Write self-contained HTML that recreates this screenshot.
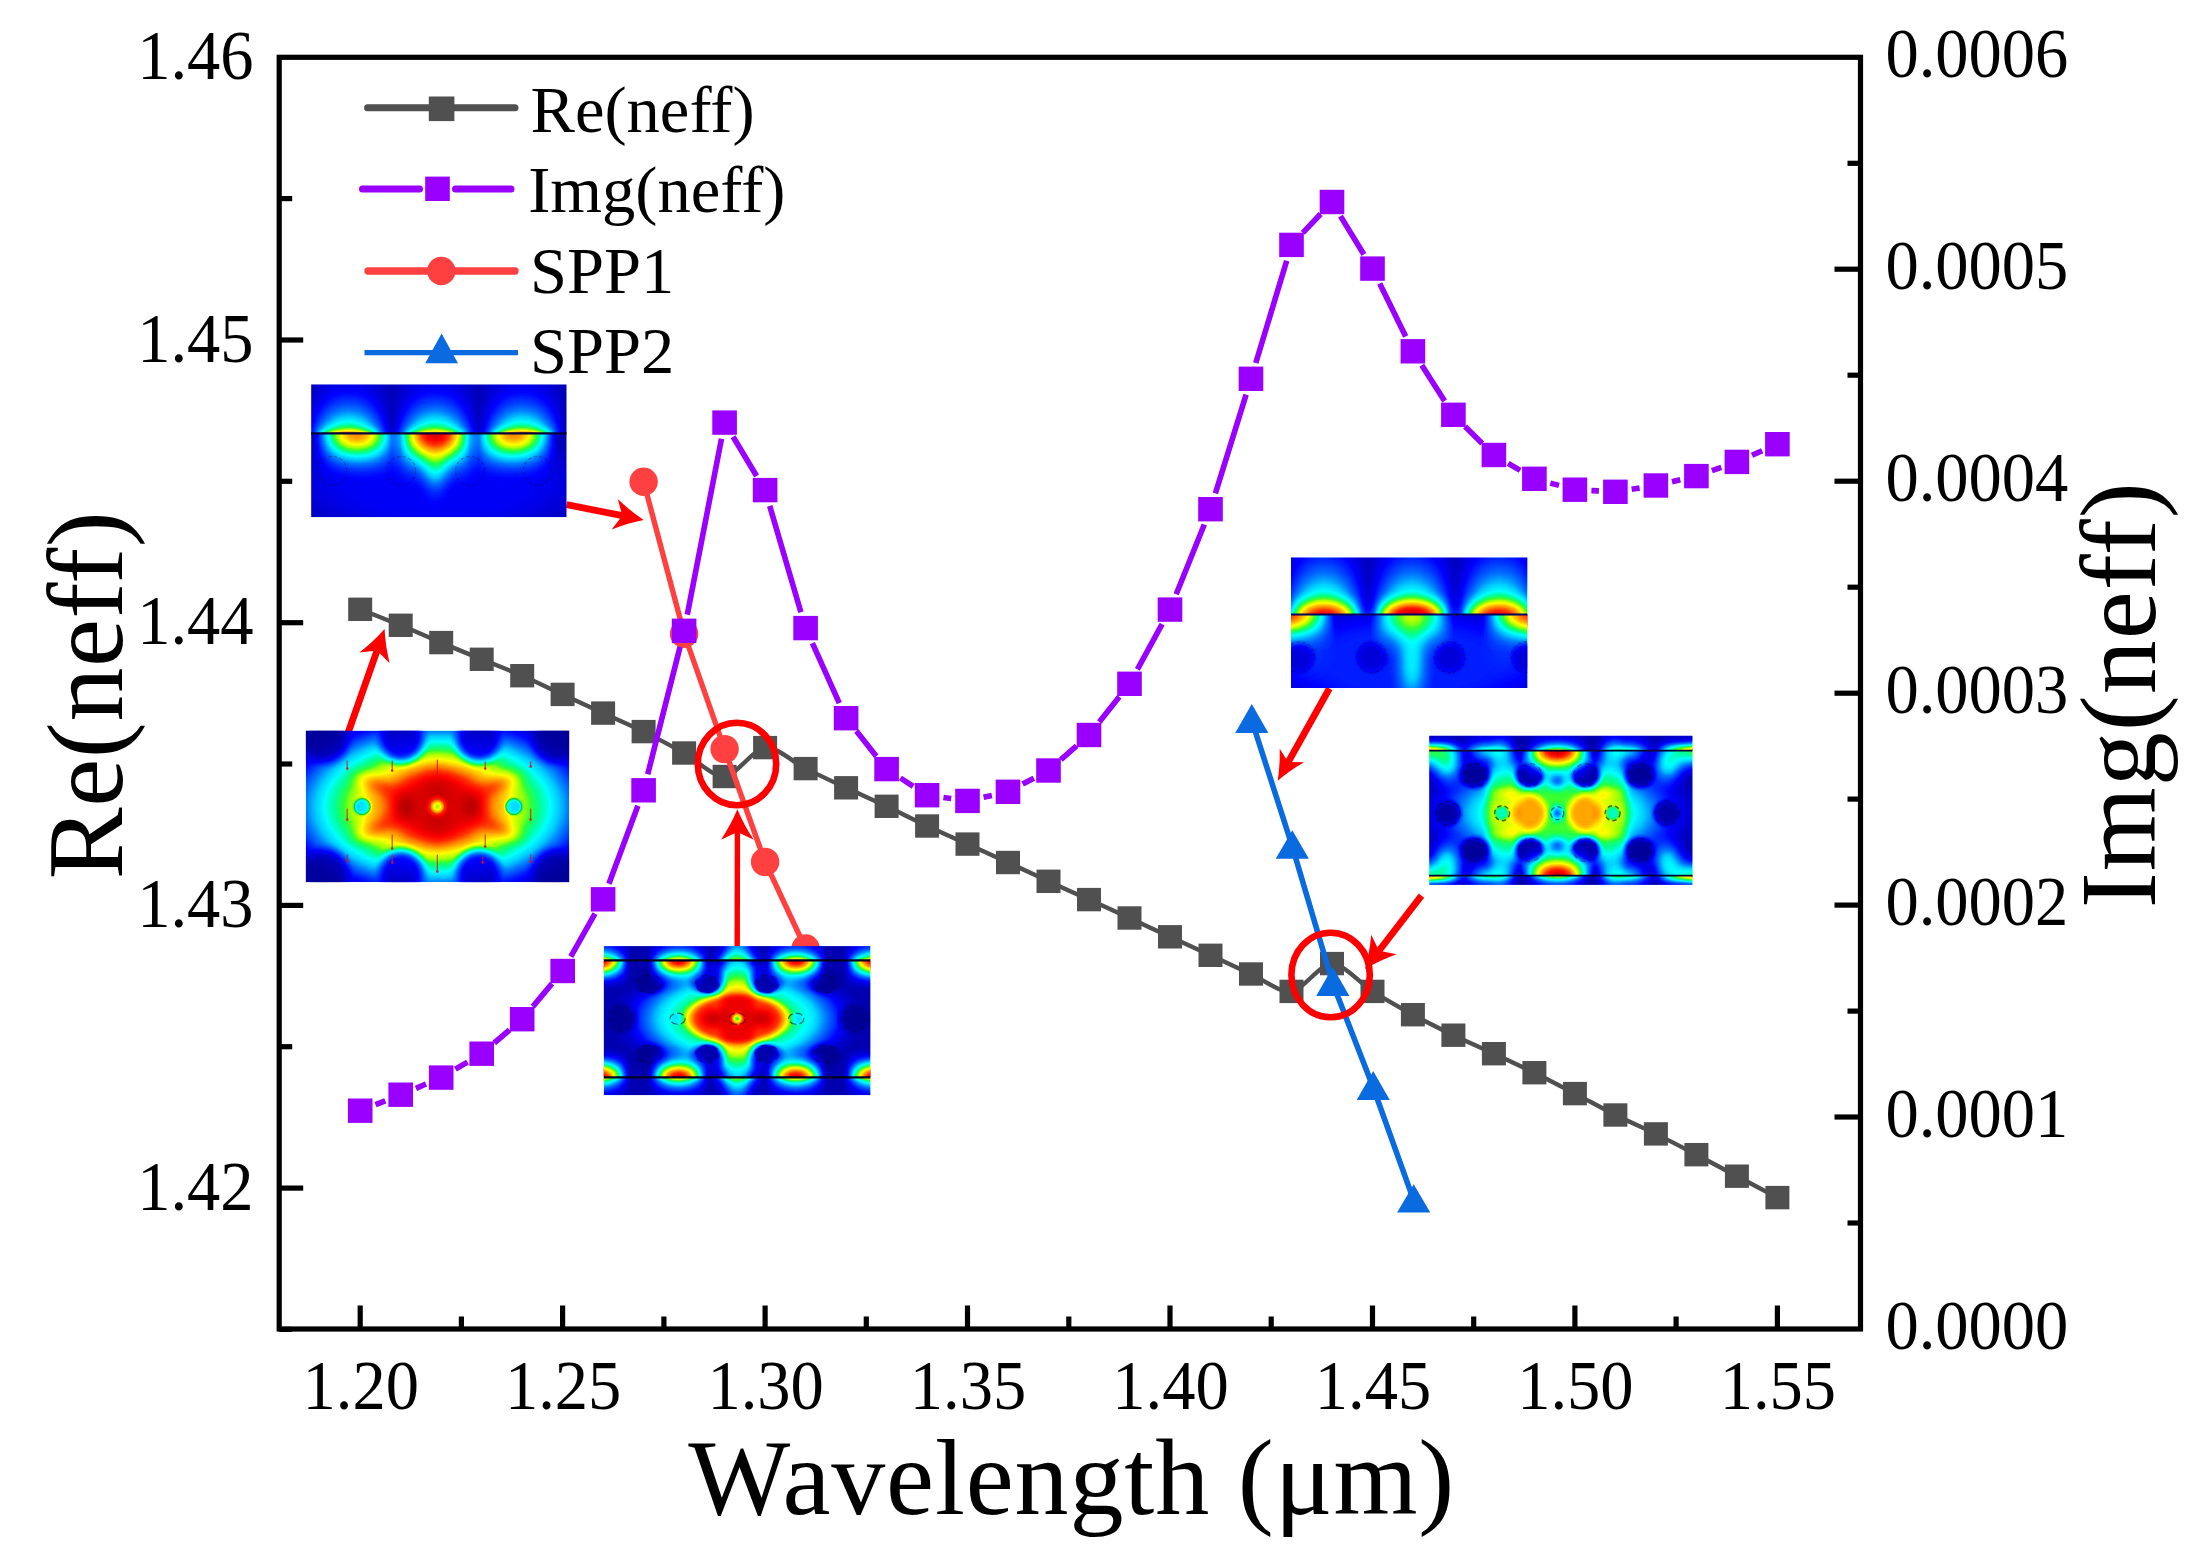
<!DOCTYPE html>
<html lang="en"><head><meta charset="utf-8"><title>Re(neff) and Img(neff) versus wavelength</title>
<style>html,body{margin:0;padding:0;background:#fff}svg{display:block}</style></head><body>
<svg width="2199" height="1557" viewBox="0 0 2199 1557">
<defs>
<filter id="jet" color-interpolation-filters="sRGB" x="0" y="0" width="100%" height="100%" filterUnits="objectBoundingBox">
<feComponentTransfer>
<feFuncR type="table" tableValues="0 0 0 0 0 0 0 0 0.2 0.7 1 1 1 1 1 0.8 0.6"/>
<feFuncG type="table" tableValues="0 0 0 0.25 0.5 0.8 1 1 1 1 1 0.75 0.5 0.2 0 0 0"/>
<feFuncB type="table" tableValues="0.56 0.8 1 1 1 1 1 0.6 0.2 0 0 0 0 0 0 0 0"/>
</feComponentTransfer></filter>
<radialGradient id="gw">
<stop offset="0" stop-color="#fff" stop-opacity="1.000"/>
<stop offset="0.1" stop-color="#fff" stop-opacity="0.967"/>
<stop offset="0.2" stop-color="#fff" stop-opacity="0.875"/>
<stop offset="0.3" stop-color="#fff" stop-opacity="0.739"/>
<stop offset="0.4" stop-color="#fff" stop-opacity="0.582"/>
<stop offset="0.5" stop-color="#fff" stop-opacity="0.426"/>
<stop offset="0.6" stop-color="#fff" stop-opacity="0.287"/>
<stop offset="0.7" stop-color="#fff" stop-opacity="0.175"/>
<stop offset="0.8" stop-color="#fff" stop-opacity="0.092"/>
<stop offset="0.9" stop-color="#fff" stop-opacity="0.036"/>
<stop offset="1" stop-color="#fff" stop-opacity="0.000"/>
</radialGradient>
<radialGradient id="gb">
<stop offset="0" stop-color="#000" stop-opacity="1.000"/>
<stop offset="0.1" stop-color="#000" stop-opacity="0.967"/>
<stop offset="0.2" stop-color="#000" stop-opacity="0.875"/>
<stop offset="0.3" stop-color="#000" stop-opacity="0.739"/>
<stop offset="0.4" stop-color="#000" stop-opacity="0.582"/>
<stop offset="0.5" stop-color="#000" stop-opacity="0.426"/>
<stop offset="0.6" stop-color="#000" stop-opacity="0.287"/>
<stop offset="0.7" stop-color="#000" stop-opacity="0.175"/>
<stop offset="0.8" stop-color="#000" stop-opacity="0.092"/>
<stop offset="0.9" stop-color="#000" stop-opacity="0.036"/>
<stop offset="1" stop-color="#000" stop-opacity="0.000"/>
</radialGradient>
<radialGradient id="ew">
<stop offset="0" stop-color="#fff" stop-opacity="1.000"/>
<stop offset="0.1" stop-color="#fff" stop-opacity="0.727"/>
<stop offset="0.2" stop-color="#fff" stop-opacity="0.525"/>
<stop offset="0.3" stop-color="#fff" stop-opacity="0.375"/>
<stop offset="0.4" stop-color="#fff" stop-opacity="0.265"/>
<stop offset="0.5" stop-color="#fff" stop-opacity="0.182"/>
<stop offset="0.6" stop-color="#fff" stop-opacity="0.122"/>
<stop offset="0.7" stop-color="#fff" stop-opacity="0.076"/>
<stop offset="0.8" stop-color="#fff" stop-opacity="0.043"/>
<stop offset="0.9" stop-color="#fff" stop-opacity="0.018"/>
<stop offset="1" stop-color="#fff" stop-opacity="0.000"/>
</radialGradient>
<radialGradient id="pw">
<stop offset="0" stop-color="#fff" stop-opacity="1.000"/>
<stop offset="0.1" stop-color="#fff" stop-opacity="1.000"/>
<stop offset="0.2" stop-color="#fff" stop-opacity="1.000"/>
<stop offset="0.3" stop-color="#fff" stop-opacity="1.000"/>
<stop offset="0.4" stop-color="#fff" stop-opacity="1.000"/>
<stop offset="0.5" stop-color="#fff" stop-opacity="0.933"/>
<stop offset="0.6" stop-color="#fff" stop-opacity="0.750"/>
<stop offset="0.7" stop-color="#fff" stop-opacity="0.500"/>
<stop offset="0.8" stop-color="#fff" stop-opacity="0.250"/>
<stop offset="0.9" stop-color="#fff" stop-opacity="0.067"/>
<stop offset="1" stop-color="#fff" stop-opacity="0.000"/>
</radialGradient>
<radialGradient id="pb">
<stop offset="0" stop-color="#000" stop-opacity="1.000"/>
<stop offset="0.1" stop-color="#000" stop-opacity="1.000"/>
<stop offset="0.2" stop-color="#000" stop-opacity="1.000"/>
<stop offset="0.3" stop-color="#000" stop-opacity="1.000"/>
<stop offset="0.4" stop-color="#000" stop-opacity="1.000"/>
<stop offset="0.5" stop-color="#000" stop-opacity="0.933"/>
<stop offset="0.6" stop-color="#000" stop-opacity="0.750"/>
<stop offset="0.7" stop-color="#000" stop-opacity="0.500"/>
<stop offset="0.8" stop-color="#000" stop-opacity="0.250"/>
<stop offset="0.9" stop-color="#000" stop-opacity="0.067"/>
<stop offset="1" stop-color="#000" stop-opacity="0.000"/>
</radialGradient>
<radialGradient id="hb">
<stop offset="0" stop-color="#000" stop-opacity="1.000"/>
<stop offset="0.0625" stop-color="#000" stop-opacity="1.000"/>
<stop offset="0.125" stop-color="#000" stop-opacity="1.000"/>
<stop offset="0.1875" stop-color="#000" stop-opacity="1.000"/>
<stop offset="0.25" stop-color="#000" stop-opacity="1.000"/>
<stop offset="0.3125" stop-color="#000" stop-opacity="1.000"/>
<stop offset="0.375" stop-color="#000" stop-opacity="1.000"/>
<stop offset="0.4375" stop-color="#000" stop-opacity="1.000"/>
<stop offset="0.5" stop-color="#000" stop-opacity="1.000"/>
<stop offset="0.5625" stop-color="#000" stop-opacity="1.000"/>
<stop offset="0.625" stop-color="#000" stop-opacity="1.000"/>
<stop offset="0.6875" stop-color="#000" stop-opacity="0.924"/>
<stop offset="0.75" stop-color="#000" stop-opacity="0.738"/>
<stop offset="0.8125" stop-color="#000" stop-opacity="0.490"/>
<stop offset="0.875" stop-color="#000" stop-opacity="0.244"/>
<stop offset="0.9375" stop-color="#000" stop-opacity="0.065"/>
<stop offset="1" stop-color="#000" stop-opacity="0.000"/>
</radialGradient>
<radialGradient id="hw">
<stop offset="0" stop-color="#fff" stop-opacity="1.000"/>
<stop offset="0.0625" stop-color="#fff" stop-opacity="1.000"/>
<stop offset="0.125" stop-color="#fff" stop-opacity="1.000"/>
<stop offset="0.1875" stop-color="#fff" stop-opacity="1.000"/>
<stop offset="0.25" stop-color="#fff" stop-opacity="1.000"/>
<stop offset="0.3125" stop-color="#fff" stop-opacity="1.000"/>
<stop offset="0.375" stop-color="#fff" stop-opacity="1.000"/>
<stop offset="0.4375" stop-color="#fff" stop-opacity="1.000"/>
<stop offset="0.5" stop-color="#fff" stop-opacity="1.000"/>
<stop offset="0.5625" stop-color="#fff" stop-opacity="1.000"/>
<stop offset="0.625" stop-color="#fff" stop-opacity="1.000"/>
<stop offset="0.6875" stop-color="#fff" stop-opacity="0.924"/>
<stop offset="0.75" stop-color="#fff" stop-opacity="0.738"/>
<stop offset="0.8125" stop-color="#fff" stop-opacity="0.490"/>
<stop offset="0.875" stop-color="#fff" stop-opacity="0.244"/>
<stop offset="0.9375" stop-color="#fff" stop-opacity="0.065"/>
<stop offset="1" stop-color="#fff" stop-opacity="0.000"/>
</radialGradient>
<linearGradient id="hc" x1="0" y1="0" x2="1" y2="0">
<stop offset="0" stop-color="#fff" stop-opacity="0.000"/>
<stop offset="0.0833333" stop-color="#fff" stop-opacity="0.211"/>
<stop offset="0.166667" stop-color="#fff" stop-opacity="0.451"/>
<stop offset="0.25" stop-color="#fff" stop-opacity="0.671"/>
<stop offset="0.333333" stop-color="#fff" stop-opacity="0.848"/>
<stop offset="0.416667" stop-color="#fff" stop-opacity="0.961"/>
<stop offset="0.5" stop-color="#fff" stop-opacity="1.000"/>
<stop offset="0.583333" stop-color="#fff" stop-opacity="0.961"/>
<stop offset="0.666667" stop-color="#fff" stop-opacity="0.848"/>
<stop offset="0.75" stop-color="#fff" stop-opacity="0.671"/>
<stop offset="0.833333" stop-color="#fff" stop-opacity="0.451"/>
<stop offset="0.916667" stop-color="#fff" stop-opacity="0.211"/>
<stop offset="1" stop-color="#fff" stop-opacity="0.000"/>
</linearGradient>
<mask id="hm" maskContentUnits="objectBoundingBox" x="0" y="0" width="1" height="1"><rect width="1" height="1" fill="url(#hc)"/></mask>
<linearGradient id="vEd" x1="0" y1="0" x2="0" y2="1">
<stop offset="0" stop-color="#fff" stop-opacity="1.000"/>
<stop offset="0.1" stop-color="#fff" stop-opacity="0.759"/>
<stop offset="0.2" stop-color="#fff" stop-opacity="0.571"/>
<stop offset="0.3" stop-color="#fff" stop-opacity="0.425"/>
<stop offset="0.4" stop-color="#fff" stop-opacity="0.311"/>
<stop offset="0.5" stop-color="#fff" stop-opacity="0.223"/>
<stop offset="0.6" stop-color="#fff" stop-opacity="0.154"/>
<stop offset="0.7" stop-color="#fff" stop-opacity="0.100"/>
<stop offset="0.8" stop-color="#fff" stop-opacity="0.058"/>
<stop offset="0.9" stop-color="#fff" stop-opacity="0.025"/>
<stop offset="1" stop-color="#fff" stop-opacity="0.000"/>
</linearGradient>
<linearGradient id="vEu" x1="0" y1="1" x2="0" y2="0">
<stop offset="0" stop-color="#fff" stop-opacity="1.000"/>
<stop offset="0.1" stop-color="#fff" stop-opacity="0.759"/>
<stop offset="0.2" stop-color="#fff" stop-opacity="0.571"/>
<stop offset="0.3" stop-color="#fff" stop-opacity="0.425"/>
<stop offset="0.4" stop-color="#fff" stop-opacity="0.311"/>
<stop offset="0.5" stop-color="#fff" stop-opacity="0.223"/>
<stop offset="0.6" stop-color="#fff" stop-opacity="0.154"/>
<stop offset="0.7" stop-color="#fff" stop-opacity="0.100"/>
<stop offset="0.8" stop-color="#fff" stop-opacity="0.058"/>
<stop offset="0.9" stop-color="#fff" stop-opacity="0.025"/>
<stop offset="1" stop-color="#fff" stop-opacity="0.000"/>
</linearGradient>
<linearGradient id="vGd" x1="0" y1="0" x2="0" y2="1">
<stop offset="0" stop-color="#fff" stop-opacity="1.000"/>
<stop offset="0.1" stop-color="#fff" stop-opacity="0.960"/>
<stop offset="0.2" stop-color="#fff" stop-opacity="0.849"/>
<stop offset="0.3" stop-color="#fff" stop-opacity="0.692"/>
<stop offset="0.4" stop-color="#fff" stop-opacity="0.518"/>
<stop offset="0.5" stop-color="#fff" stop-opacity="0.356"/>
<stop offset="0.6" stop-color="#fff" stop-opacity="0.223"/>
<stop offset="0.7" stop-color="#fff" stop-opacity="0.125"/>
<stop offset="0.8" stop-color="#fff" stop-opacity="0.060"/>
<stop offset="0.9" stop-color="#fff" stop-opacity="0.021"/>
<stop offset="1" stop-color="#fff" stop-opacity="0.000"/>
</linearGradient>
<linearGradient id="vGu" x1="0" y1="1" x2="0" y2="0">
<stop offset="0" stop-color="#fff" stop-opacity="1.000"/>
<stop offset="0.1" stop-color="#fff" stop-opacity="0.960"/>
<stop offset="0.2" stop-color="#fff" stop-opacity="0.849"/>
<stop offset="0.3" stop-color="#fff" stop-opacity="0.692"/>
<stop offset="0.4" stop-color="#fff" stop-opacity="0.518"/>
<stop offset="0.5" stop-color="#fff" stop-opacity="0.356"/>
<stop offset="0.6" stop-color="#fff" stop-opacity="0.223"/>
<stop offset="0.7" stop-color="#fff" stop-opacity="0.125"/>
<stop offset="0.8" stop-color="#fff" stop-opacity="0.060"/>
<stop offset="0.9" stop-color="#fff" stop-opacity="0.021"/>
<stop offset="1" stop-color="#fff" stop-opacity="0.000"/>
</linearGradient>
<linearGradient id="vSd" x1="0" y1="0" x2="0" y2="1">
<stop offset="0" stop-color="#fff" stop-opacity="1.000"/>
<stop offset="0.1" stop-color="#fff" stop-opacity="0.604"/>
<stop offset="0.2" stop-color="#fff" stop-opacity="0.364"/>
<stop offset="0.3" stop-color="#fff" stop-opacity="0.218"/>
<stop offset="0.4" stop-color="#fff" stop-opacity="0.129"/>
<stop offset="0.5" stop-color="#fff" stop-opacity="0.076"/>
<stop offset="0.6" stop-color="#fff" stop-opacity="0.043"/>
<stop offset="0.7" stop-color="#fff" stop-opacity="0.024"/>
<stop offset="0.8" stop-color="#fff" stop-opacity="0.012"/>
<stop offset="0.9" stop-color="#fff" stop-opacity="0.004"/>
<stop offset="1" stop-color="#fff" stop-opacity="0.000"/>
</linearGradient>
<linearGradient id="vSu" x1="0" y1="1" x2="0" y2="0">
<stop offset="0" stop-color="#fff" stop-opacity="1.000"/>
<stop offset="0.1" stop-color="#fff" stop-opacity="0.604"/>
<stop offset="0.2" stop-color="#fff" stop-opacity="0.364"/>
<stop offset="0.3" stop-color="#fff" stop-opacity="0.218"/>
<stop offset="0.4" stop-color="#fff" stop-opacity="0.129"/>
<stop offset="0.5" stop-color="#fff" stop-opacity="0.076"/>
<stop offset="0.6" stop-color="#fff" stop-opacity="0.043"/>
<stop offset="0.7" stop-color="#fff" stop-opacity="0.024"/>
<stop offset="0.8" stop-color="#fff" stop-opacity="0.012"/>
<stop offset="0.9" stop-color="#fff" stop-opacity="0.004"/>
<stop offset="1" stop-color="#fff" stop-opacity="0.000"/>
</linearGradient>
<filter id="b3" x="-20%" y="-20%" width="140%" height="140%"><feGaussianBlur stdDeviation="3"/></filter>
<filter id="b6" x="-30%" y="-30%" width="160%" height="160%"><feGaussianBlur stdDeviation="6"/></filter>
</defs>
<rect width="2199" height="1557" fill="#fff"/>
<g stroke="#000" stroke-width="5.2" fill="none" stroke-linecap="butt">
<rect x="279.2" y="57.3" width="1581.3" height="1271.7"/>
</g><g stroke="#000" stroke-width="5.2" fill="none">
<path d="M360.2 1329.0 V1305.5"/>
<path d="M562.6 1329.0 V1305.5"/>
<path d="M765.1 1329.0 V1305.5"/>
<path d="M967.5 1329.0 V1305.5"/>
<path d="M1170.0 1329.0 V1305.5"/>
<path d="M1372.5 1329.0 V1305.5"/>
<path d="M1574.9 1329.0 V1305.5"/>
<path d="M1777.4 1329.0 V1305.5"/>
<path d="M461.4 1329.0 V1316.5"/>
<path d="M663.9 1329.0 V1316.5"/>
<path d="M866.3 1329.0 V1316.5"/>
<path d="M1068.8 1329.0 V1316.5"/>
<path d="M1271.2 1329.0 V1316.5"/>
<path d="M1473.7 1329.0 V1316.5"/>
<path d="M1676.1 1329.0 V1316.5"/>
<path d="M279.2 1188.1 H303.2"/>
<path d="M279.2 905.4 H303.2"/>
<path d="M279.2 622.7 H303.2"/>
<path d="M279.2 340.0 H303.2"/>
<path d="M279.2 1329.4 H292.2"/>
<path d="M279.2 1046.7 H292.2"/>
<path d="M279.2 764.0 H292.2"/>
<path d="M279.2 481.3 H292.2"/>
<path d="M279.2 198.6 H292.2"/>
<path d="M1860.5 1117.0 H1834.5"/>
<path d="M1860.5 905.1 H1834.5"/>
<path d="M1860.5 693.2 H1834.5"/>
<path d="M1860.5 481.2 H1834.5"/>
<path d="M1860.5 269.2 H1834.5"/>
<path d="M1860.5 1223.0 H1847.5"/>
<path d="M1860.5 1011.1 H1847.5"/>
<path d="M1860.5 799.1 H1847.5"/>
<path d="M1860.5 587.2 H1847.5"/>
<path d="M1860.5 375.2 H1847.5"/>
<path d="M1860.5 163.3 H1847.5"/>
</g>
<g font-family='"Liberation Serif", "DejaVu Serif", serif' font-size="66.5" fill="#000">
<text transform="translate(360.7 1409.0) scale(1 1.05)" text-anchor="middle">1.20</text>
<text transform="translate(563.1 1409.0) scale(1 1.05)" text-anchor="middle">1.25</text>
<text transform="translate(765.6 1409.0) scale(1 1.05)" text-anchor="middle">1.30</text>
<text transform="translate(968.0 1409.0) scale(1 1.05)" text-anchor="middle">1.35</text>
<text transform="translate(1170.5 1409.0) scale(1 1.05)" text-anchor="middle">1.40</text>
<text transform="translate(1373.0 1409.0) scale(1 1.05)" text-anchor="middle">1.45</text>
<text transform="translate(1575.4 1409.0) scale(1 1.05)" text-anchor="middle">1.50</text>
<text transform="translate(1777.9 1409.0) scale(1 1.05)" text-anchor="middle">1.55</text>
<text transform="translate(253.6 1209.7) scale(1 1.05)" text-anchor="end">1.42</text>
<text transform="translate(253.6 927.0) scale(1 1.05)" text-anchor="end">1.43</text>
<text transform="translate(253.6 644.3) scale(1 1.05)" text-anchor="end">1.44</text>
<text transform="translate(253.6 361.6) scale(1 1.05)" text-anchor="end">1.45</text>
<text transform="translate(253.6 78.9) scale(1 1.05)" text-anchor="end">1.46</text>
<text transform="translate(1885.4 1348.8) scale(1 1.05)" text-anchor="start">0.0000</text>
<text transform="translate(1885.4 1136.8) scale(1 1.05)" text-anchor="start">0.0001</text>
<text transform="translate(1885.4 924.9) scale(1 1.05)" text-anchor="start">0.0002</text>
<text transform="translate(1885.4 713.0) scale(1 1.05)" text-anchor="start">0.0003</text>
<text transform="translate(1885.4 501.0) scale(1 1.05)" text-anchor="start">0.0004</text>
<text transform="translate(1885.4 289.1) scale(1 1.05)" text-anchor="start">0.0005</text>
<text transform="translate(1885.4 77.1) scale(1 1.05)" text-anchor="start">0.0006</text>
</g>
<g font-family='"Liberation Serif", "DejaVu Serif", serif' font-size="108" fill="#000">
<text x="1071.3" y="1514.4" text-anchor="middle" textLength="766" lengthAdjust="spacing">Wavelength (μm)</text>
<text transform="translate(122 695.3) rotate(-90)" text-anchor="middle" textLength="368" lengthAdjust="spacing">Re(neff)</text>
<text transform="translate(2154.6 695.3) rotate(-90)" text-anchor="middle" textLength="426" lengthAdjust="spacing">Img(neff)</text>
</g>
<path d="M367.5 107.8H515" stroke="#505050" stroke-width="7" stroke-linecap="round"/>
<rect x="428.8" y="96.5" width="25.6" height="24.6" fill="#505050"/>
<path d="M362.5 189H419.5M455.5 189H511" stroke="#9900ff" stroke-width="7" stroke-linecap="round"/>
<rect x="425.2" y="176.6" width="24.6" height="24.4" fill="#9900ff"/>
<path d="M368 271H515" stroke="#ff4040" stroke-width="7.4" stroke-linecap="round"/>
<circle cx="441.3" cy="271" r="14.2" fill="#ff4040"/>
<path d="M364.5 352.6H518" stroke="#0a6ae0" stroke-width="5.4"/>
<path d="M441.6 333.5L458 363.2H425.2Z" fill="#0a6ae0"/>
<g font-family='"Liberation Serif", "DejaVu Serif", serif' font-size="66.5" fill="#000">
<text x="530.6" y="131.8">Re(neff)</text>
<text x="528.2" y="211.8">Img(neff)</text>
<text x="530" y="293.3">SPP1</text>
<text x="530" y="373.4">SPP2</text>
</g>
<path fill="none" stroke="#505050" stroke-width="4.4" stroke-linejoin="round" d="M360.2 609.3C366.0 611.6 389.1 620.5 400.7 625.3C412.3 630.1 429.6 637.7 441.2 642.6C452.7 647.5 470.1 654.6 481.7 659.3C493.2 664.0 510.6 670.7 522.2 675.7C533.7 680.7 551.1 689.1 562.6 694.4C574.2 699.7 591.6 707.8 603.1 713.1C614.7 718.4 632.1 725.9 643.6 731.6C655.2 737.3 672.6 746.6 684.1 753.0C695.7 759.4 713.0 777.3 724.6 776.5C736.2 775.7 753.5 748.7 765.1 747.6C776.7 746.5 794.0 762.9 805.6 768.6C817.2 774.3 834.5 782.4 846.1 787.8C857.6 793.2 875.0 800.8 886.6 806.3C898.1 811.8 915.5 820.6 927.1 826.0C938.6 831.4 956.0 838.9 967.5 844.1C979.1 849.3 996.5 857.2 1008.0 862.5C1019.6 867.8 1037.0 876.0 1048.5 881.3C1060.1 886.6 1077.5 894.4 1089.0 899.6C1100.6 904.8 1117.9 912.7 1129.5 918.0C1141.1 923.3 1158.4 931.5 1170.0 936.8C1181.6 942.1 1198.9 950.0 1210.5 955.3C1222.1 960.6 1239.4 968.8 1251.0 974.0C1262.5 979.2 1279.9 992.9 1291.5 991.4C1303.0 989.9 1320.4 963.6 1332.0 963.6C1343.5 963.6 1360.9 984.1 1372.5 991.4C1384.0 998.7 1401.4 1008.4 1412.9 1014.7C1424.5 1021.0 1441.9 1029.6 1453.4 1035.2C1465.0 1040.8 1482.4 1048.3 1493.9 1053.7C1505.5 1059.1 1522.8 1067.0 1534.4 1072.7C1546.0 1078.4 1563.3 1087.6 1574.9 1093.6C1586.5 1099.6 1603.8 1109.2 1615.4 1115.0C1627.0 1120.8 1644.3 1128.2 1655.9 1133.9C1667.4 1139.6 1684.8 1148.7 1696.4 1154.7C1707.9 1160.7 1725.3 1170.1 1736.9 1176.2C1748.4 1182.3 1771.6 1194.5 1777.4 1197.6"/>
<g fill="#505050">
<rect x="348.2" y="597.6" width="24" height="23.4"/>
<rect x="388.7" y="613.6" width="24" height="23.4"/>
<rect x="429.2" y="630.9" width="24" height="23.4"/>
<rect x="469.7" y="647.6" width="24" height="23.4"/>
<rect x="510.2" y="664.0" width="24" height="23.4"/>
<rect x="550.6" y="682.7" width="24" height="23.4"/>
<rect x="591.1" y="701.4" width="24" height="23.4"/>
<rect x="631.6" y="719.9" width="24" height="23.4"/>
<rect x="672.1" y="741.3" width="24" height="23.4"/>
<rect x="712.6" y="764.8" width="24" height="23.4"/>
<rect x="753.1" y="735.9" width="24" height="23.4"/>
<rect x="793.6" y="756.9" width="24" height="23.4"/>
<rect x="834.1" y="776.1" width="24" height="23.4"/>
<rect x="874.6" y="794.6" width="24" height="23.4"/>
<rect x="915.1" y="814.3" width="24" height="23.4"/>
<rect x="955.5" y="832.4" width="24" height="23.4"/>
<rect x="996.0" y="850.8" width="24" height="23.4"/>
<rect x="1036.5" y="869.6" width="24" height="23.4"/>
<rect x="1077.0" y="887.9" width="24" height="23.4"/>
<rect x="1117.5" y="906.3" width="24" height="23.4"/>
<rect x="1158.0" y="925.1" width="24" height="23.4"/>
<rect x="1198.5" y="943.6" width="24" height="23.4"/>
<rect x="1239.0" y="962.3" width="24" height="23.4"/>
<rect x="1279.5" y="979.7" width="24" height="23.4"/>
<rect x="1320.0" y="951.9" width="24" height="23.4"/>
<rect x="1360.5" y="979.7" width="24" height="23.4"/>
<rect x="1400.9" y="1003.0" width="24" height="23.4"/>
<rect x="1441.4" y="1023.5" width="24" height="23.4"/>
<rect x="1481.9" y="1042.0" width="24" height="23.4"/>
<rect x="1522.4" y="1061.0" width="24" height="23.4"/>
<rect x="1562.9" y="1081.9" width="24" height="23.4"/>
<rect x="1603.4" y="1103.3" width="24" height="23.4"/>
<rect x="1643.9" y="1122.2" width="24" height="23.4"/>
<rect x="1684.4" y="1143.0" width="24" height="23.4"/>
<rect x="1724.9" y="1164.5" width="24" height="23.4"/>
<rect x="1765.4" y="1185.9" width="24" height="23.4"/>
</g>
<polyline fill="none" stroke="#ff4040" stroke-width="5.4" points="643.6,481.8 684.1,633.8 724.6,749.1 765.1,861.9 805.6,948.5"/>
<g fill="#ff4040">
<circle cx="643.6" cy="481.8" r="14.2"/>
<circle cx="684.1" cy="633.8" r="14.2"/>
<circle cx="724.6" cy="749.1" r="14.2"/>
<circle cx="765.1" cy="861.9" r="14.2"/>
<circle cx="805.6" cy="948.5" r="14.2"/>
</g>
<polyline fill="none" stroke="#0a6ae0" stroke-width="5.6" points="1251.8,720.5 1292.3,846.5 1332.8,983.5 1373.2,1087.5 1413.7,1200.4"/>
<g fill="#0a6ae0">
<path d="M1251.8 703.9L1268.4 733.0H1235.2Z"/>
<path d="M1292.3 830.3L1308.9 858.8H1275.7Z"/>
<path d="M1332.8 967.0L1349.4 996.0H1316.2Z"/>
<path d="M1373.2 1071.0L1389.8 1100.1H1356.7Z"/>
<path d="M1413.7 1184.3L1430.3 1212.6H1397.1Z"/>
</g>
<path d="M375.5 1104.6L385.3 1100.8M415.9 1088.3L426.0 1084.0M455.4 1069.2L467.5 1062.1M494.2 1043.0L509.6 1029.9M532.8 1006.6L552.0 983.6M570.8 956.6L595.0 913.7M608.9 883.8L637.9 805.8M647.7 774.3L680.1 646.8M687.3 614.6L721.5 438.8M733.1 436.7L756.6 476.0M769.7 505.9L800.9 612.3M812.4 643.2L839.3 703.1M856.4 731.1L876.3 756.2M900.4 778.0L913.2 786.3M943.4 797.5L951.2 798.6M983.6 797.3L991.9 795.4M1022.6 784.1L1033.9 778.2M1060.9 759.6L1076.6 745.9M1099.3 722.1L1119.3 696.7M1137.4 669.3L1162.1 624.1M1176.2 594.3L1204.3 524.5M1215.4 493.4L1246.1 394.6M1255.8 363.0L1286.7 260.7M1302.8 232.9L1320.6 214.0M1340.5 216.1L1363.9 254.5M1379.7 283.4L1405.7 336.5M1421.8 365.2L1444.6 400.9M1465.1 426.4L1482.2 443.4M1508.1 463.4L1520.2 470.4M1550.3 483.1L1559.0 485.4M1591.4 490.6L1598.9 490.9M1631.7 489.3L1639.6 488.0M1672.0 481.8L1680.3 479.8M1711.9 470.6L1721.3 467.4M1752.0 455.3L1762.2 450.8" stroke="#9900ff" stroke-width="5.6" fill="none"/>
<g fill="#9900ff">
<rect x="347.9" y="1098.5" width="24.6" height="24.4"/>
<rect x="388.4" y="1082.5" width="24.6" height="24.4"/>
<rect x="428.9" y="1065.4" width="24.6" height="24.4"/>
<rect x="469.4" y="1041.5" width="24.6" height="24.4"/>
<rect x="509.9" y="1007.0" width="24.6" height="24.4"/>
<rect x="550.4" y="958.8" width="24.6" height="24.4"/>
<rect x="590.8" y="887.1" width="24.6" height="24.4"/>
<rect x="631.3" y="778.1" width="24.6" height="24.4"/>
<rect x="671.8" y="618.6" width="24.6" height="24.4"/>
<rect x="712.3" y="410.4" width="24.6" height="24.4"/>
<rect x="752.8" y="477.9" width="24.6" height="24.4"/>
<rect x="793.3" y="615.9" width="24.6" height="24.4"/>
<rect x="833.8" y="706.0" width="24.6" height="24.4"/>
<rect x="874.3" y="756.9" width="24.6" height="24.4"/>
<rect x="914.8" y="783.0" width="24.6" height="24.4"/>
<rect x="955.2" y="788.7" width="24.6" height="24.4"/>
<rect x="995.7" y="779.6" width="24.6" height="24.4"/>
<rect x="1036.2" y="758.3" width="24.6" height="24.4"/>
<rect x="1076.7" y="722.8" width="24.6" height="24.4"/>
<rect x="1117.2" y="671.6" width="24.6" height="24.4"/>
<rect x="1157.7" y="597.4" width="24.6" height="24.4"/>
<rect x="1198.2" y="497.0" width="24.6" height="24.4"/>
<rect x="1238.7" y="366.6" width="24.6" height="24.4"/>
<rect x="1279.2" y="232.7" width="24.6" height="24.4"/>
<rect x="1319.7" y="189.8" width="24.6" height="24.4"/>
<rect x="1360.2" y="256.4" width="24.6" height="24.4"/>
<rect x="1400.6" y="339.1" width="24.6" height="24.4"/>
<rect x="1441.1" y="402.6" width="24.6" height="24.4"/>
<rect x="1481.6" y="442.8" width="24.6" height="24.4"/>
<rect x="1522.1" y="466.6" width="24.6" height="24.4"/>
<rect x="1562.6" y="477.5" width="24.6" height="24.4"/>
<rect x="1603.1" y="479.6" width="24.6" height="24.4"/>
<rect x="1643.6" y="473.3" width="24.6" height="24.4"/>
<rect x="1684.1" y="463.9" width="24.6" height="24.4"/>
<rect x="1724.6" y="449.7" width="24.6" height="24.4"/>
<rect x="1765.1" y="432.0" width="24.6" height="24.4"/>
</g>
<ellipse cx="737" cy="764" rx="39.2" ry="41.2" fill="none" stroke="#ff0000" stroke-width="6.6"/>
<ellipse cx="1330.6" cy="975" rx="39.2" ry="42.3" fill="none" stroke="#ff0000" stroke-width="6.6"/>
<path d="M566.6 504.6L622.3 515.7" stroke="#ff0000" stroke-width="6.8" fill="none"/>
<path d="M643.7 519.9Q628.1 522.8 611.7 529.4L622.3 515.7L617.8 499.0Q630.4 511.3 643.7 519.9Z" fill="#ff0000"/>
<path d="M348.2 732.5L377.1 650.4" stroke="#ff0000" stroke-width="6.8" fill="none"/>
<path d="M384.6 629.1Q385.3 645.5 389.6 663.2L377.1 650.4L359.4 652.6Q373.8 641.5 384.6 629.1Z" fill="#ff0000"/>
<path d="M737.2 947.0L737.4 831.9" stroke="#ff0000" stroke-width="5.4" fill="none"/>
<path d="M737.4 809.3Q743.6 824.6 753.8 839.8L737.4 831.9L721.0 839.8Q731.1 824.5 737.4 809.3Z" fill="#ff0000"/>
<path d="M1329.4 688.5L1288.2 762.1" stroke="#ff0000" stroke-width="6.8" fill="none"/>
<path d="M1277.7 780.8Q1280.1 765.5 1279.7 748.7L1288.2 762.1L1304.1 762.3Q1289.4 770.7 1277.7 780.8Z" fill="#ff0000"/>
<path d="M1421.5 895.6L1379.0 950.8" stroke="#ff0000" stroke-width="6.8" fill="none"/>
<path d="M1365.0 969.0Q1369.6 953.0 1371.2 934.7L1379.0 950.8L1396.6 954.2Q1379.3 960.4 1365.0 969.0Z" fill="#ff0000"/>
<svg x="311.1" y="384.3" width="255.6" height="133.0" viewBox="0 0 255.6 133.0" overflow="hidden">
<g filter="url(#jet)">
<rect x="0" y="0" width="255.6" height="133.0" fill="rgb(10,10,10)"/>
<rect x="-6.4" y="-22.9" width="88.0" height="72.0" fill="url(#vEu)" mask="url(#hm)" opacity="0.55"/>
<rect x="3.6" y="35.1" width="68.0" height="14.0" fill="url(#vSu)" mask="url(#hm)" opacity="0.62"/>
<rect x="80.2" y="-22.9" width="88.0" height="72.0" fill="url(#vEu)" mask="url(#hm)" opacity="0.55"/>
<rect x="90.2" y="35.1" width="68.0" height="14.0" fill="url(#vSu)" mask="url(#hm)" opacity="0.42"/>
<rect x="166.9" y="-22.9" width="88.0" height="72.0" fill="url(#vEu)" mask="url(#hm)" opacity="0.55"/>
<rect x="176.9" y="35.1" width="68.0" height="14.0" fill="url(#vSu)" mask="url(#hm)" opacity="0.62"/>
<ellipse cx="128.0" cy="100.0" rx="190.0" ry="64.0" fill="url(#pw)" opacity="0.08"/>
<rect x="80.2" y="49.1" width="88.0" height="57.0" fill="url(#vGd)" mask="url(#hm)" opacity="0.93"/>
<ellipse cx="124.2" cy="83.1" rx="22.0" ry="42.0" fill="url(#gw)" opacity="0.2"/>
<rect x="1.5" y="49.1" width="88.0" height="50.0" fill="url(#vGd)" mask="url(#hm)" opacity="0.74"/>
<rect x="158.8" y="49.1" width="88.0" height="50.0" fill="url(#vGd)" mask="url(#hm)" opacity="0.74"/>
</g>
<path d="M0 49.1H255.6" stroke="#00003c" stroke-width="2.2"/>
<circle cx="21.2" cy="86.6" r="14.5" fill="none" stroke="#000018" stroke-opacity="0.35" stroke-width="1.1" stroke-dasharray="3.2 2.6"/>
<circle cx="90.0" cy="86.6" r="14.5" fill="none" stroke="#000018" stroke-opacity="0.35" stroke-width="1.1" stroke-dasharray="3.2 2.6"/>
<circle cx="159.0" cy="86.6" r="14.5" fill="none" stroke="#000018" stroke-opacity="0.35" stroke-width="1.1" stroke-dasharray="3.2 2.6"/>
<circle cx="226.5" cy="86.6" r="14.5" fill="none" stroke="#000018" stroke-opacity="0.35" stroke-width="1.1" stroke-dasharray="3.2 2.6"/>
</svg>
<svg x="305.7" y="730.6" width="263.6" height="151.6" viewBox="0 0 263.6 151.6" overflow="hidden">
<g filter="url(#jet)">
<rect x="0" y="0" width="263.6" height="151.6" fill="rgb(8,8,8)"/>
<ellipse cx="131.6" cy="76.0" rx="180.0" ry="104.0" fill="url(#pw)" opacity="0.52"/>
<ellipse cx="131.6" cy="76.0" rx="104.0" ry="64.0" fill="url(#pw)" opacity="0.46"/>
<ellipse cx="189.6" cy="96.0" rx="40.0" ry="17.0" fill="url(#gw)" opacity="0.34" transform="rotate(24 189.6 96.0)"/>
<ellipse cx="189.6" cy="56.0" rx="40.0" ry="17.0" fill="url(#gw)" opacity="0.34" transform="rotate(-24 189.6 56.0)"/>
<ellipse cx="73.6" cy="96.0" rx="40.0" ry="17.0" fill="url(#gw)" opacity="0.34" transform="rotate(156 73.6 96.0)"/>
<ellipse cx="73.6" cy="56.0" rx="40.0" ry="17.0" fill="url(#gw)" opacity="0.34" transform="rotate(-156 73.6 56.0)"/>
<ellipse cx="131.6" cy="76.0" rx="64.0" ry="48.0" fill="url(#pw)" opacity="0.66"/>
<ellipse cx="131.6" cy="76.0" rx="26.0" ry="62.0" fill="url(#gw)" opacity="0.35"/>
<ellipse cx="99.6" cy="76.0" rx="20.0" ry="24.0" fill="url(#gw)" opacity="0.62"/>
<ellipse cx="167.0" cy="76.0" rx="20.0" ry="24.0" fill="url(#gw)" opacity="0.62"/>
<ellipse cx="20.0" cy="10.0" rx="30.0" ry="30.0" fill="url(#pb)" opacity="0.74"/>
<ellipse cx="20.0" cy="141.0" rx="30.0" ry="30.0" fill="url(#pb)" opacity="0.74"/>
<ellipse cx="96.2" cy="10.0" rx="30.0" ry="30.0" fill="url(#pb)" opacity="0.74"/>
<ellipse cx="96.2" cy="141.0" rx="30.0" ry="30.0" fill="url(#pb)" opacity="0.74"/>
<ellipse cx="172.6" cy="10.0" rx="30.0" ry="30.0" fill="url(#pb)" opacity="0.74"/>
<ellipse cx="172.6" cy="141.0" rx="30.0" ry="30.0" fill="url(#pb)" opacity="0.74"/>
<ellipse cx="249.0" cy="10.0" rx="30.0" ry="30.0" fill="url(#pb)" opacity="0.74"/>
<ellipse cx="249.0" cy="141.0" rx="30.0" ry="30.0" fill="url(#pb)" opacity="0.74"/>
<ellipse cx="56.6" cy="76.0" rx="11.0" ry="11.0" fill="url(#pb)" opacity="0.45"/>
<ellipse cx="208.0" cy="76.0" rx="11.0" ry="11.0" fill="url(#pb)" opacity="0.45"/>
<ellipse cx="131.6" cy="76.0" rx="13.0" ry="13.0" fill="url(#gb)" opacity="0.42"/>
</g>
<circle cx="56.6" cy="76.0" r="8" fill="none" stroke="#003060" stroke-opacity="0.35" stroke-width="1"/>
<circle cx="208.0" cy="76.0" r="8" fill="none" stroke="#003060" stroke-opacity="0.35" stroke-width="1"/>
<circle cx="131.6" cy="76.0" r="7.5" fill="none" stroke="#a03000" stroke-opacity="0.5" stroke-width="1"/>
<g stroke="#e01010" stroke-width="1.1" fill="#e01010" stroke-opacity="0.85" fill-opacity="0.85">
<path d="M41.5 30v8" fill="none"/><circle cx="41.5" cy="38" r="1.3" stroke="none"/>
<path d="M86.5 30v10" fill="none"/><circle cx="86.5" cy="40" r="1.3" stroke="none"/>
<path d="M131.6 29v16" fill="none"/><circle cx="131.6" cy="45" r="1.3" stroke="none"/>
<path d="M179.5 31v7" fill="none"/><circle cx="179.5" cy="38" r="1.3" stroke="none"/>
<path d="M225 31v5" fill="none"/><circle cx="225" cy="36" r="1.3" stroke="none"/>
<path d="M41.5 78v11" fill="none"/><circle cx="41.5" cy="89" r="1.3" stroke="none"/>
<path d="M225 78v11" fill="none"/><circle cx="225" cy="89" r="1.3" stroke="none"/>
<path d="M86.5 104v14" fill="none"/><circle cx="86.5" cy="118" r="1.3" stroke="none"/>
<path d="M179.5 104v12" fill="none"/><circle cx="179.5" cy="116" r="1.3" stroke="none"/>
<path d="M41.5 124v6" fill="none"/><circle cx="41.5" cy="130" r="1.3" stroke="none"/>
<path d="M86.5 124v8" fill="none"/><circle cx="86.5" cy="132" r="1.3" stroke="none"/>
<path d="M131.6 124v17" fill="none"/><circle cx="131.6" cy="141" r="1.3" stroke="none"/>
<path d="M177 126v6" fill="none"/><circle cx="177" cy="132" r="1.3" stroke="none"/>
<path d="M225 124v7" fill="none"/><circle cx="225" cy="131" r="1.3" stroke="none"/>
</g>
</svg>
<svg x="603.6" y="946.1" width="267.0" height="149.2" viewBox="0 0 267.0 149.2" overflow="hidden">
<g filter="url(#jet)">
<rect x="0" y="0" width="267.0" height="149.2" fill="rgb(9,9,9)"/>
<ellipse cx="133.7" cy="72.6" rx="128.0" ry="62.0" fill="url(#pw)" opacity="0.42"/>
<ellipse cx="133.7" cy="72.6" rx="24.0" ry="112.0" fill="url(#pw)" opacity="0.31"/>
<ellipse cx="133.7" cy="72.6" rx="62.0" ry="30.0" fill="url(#hw)" opacity="0.64"/>
<ellipse cx="133.7" cy="72.6" rx="24.0" ry="42.0" fill="url(#pw)" opacity="0.27"/>
<ellipse cx="109.0" cy="72.6" rx="24.0" ry="19.0" fill="url(#gw)" opacity="0.7"/>
<ellipse cx="158.4" cy="72.6" rx="24.0" ry="19.0" fill="url(#gw)" opacity="0.7"/>
<ellipse cx="45.7" cy="35.1" rx="23.0" ry="18.0" fill="url(#pb)" opacity="0.55"/>
<ellipse cx="45.7" cy="38.1" rx="13.5" ry="10.5" fill="url(#hb)" opacity="0.8"/>
<ellipse cx="45.7" cy="110.6" rx="23.0" ry="18.0" fill="url(#pb)" opacity="0.55"/>
<ellipse cx="45.7" cy="107.6" rx="13.5" ry="10.5" fill="url(#hb)" opacity="0.8"/>
<ellipse cx="103.7" cy="35.1" rx="23.0" ry="18.0" fill="url(#pb)" opacity="0.55"/>
<ellipse cx="103.7" cy="38.1" rx="13.5" ry="10.5" fill="url(#hb)" opacity="0.8"/>
<ellipse cx="103.7" cy="110.6" rx="23.0" ry="18.0" fill="url(#pb)" opacity="0.55"/>
<ellipse cx="103.7" cy="107.6" rx="13.5" ry="10.5" fill="url(#hb)" opacity="0.8"/>
<ellipse cx="163.0" cy="35.1" rx="23.0" ry="18.0" fill="url(#pb)" opacity="0.55"/>
<ellipse cx="163.0" cy="38.1" rx="13.5" ry="10.5" fill="url(#hb)" opacity="0.8"/>
<ellipse cx="163.0" cy="110.6" rx="23.0" ry="18.0" fill="url(#pb)" opacity="0.55"/>
<ellipse cx="163.0" cy="107.6" rx="13.5" ry="10.5" fill="url(#hb)" opacity="0.8"/>
<ellipse cx="221.7" cy="35.1" rx="23.0" ry="18.0" fill="url(#pb)" opacity="0.55"/>
<ellipse cx="221.7" cy="38.1" rx="13.5" ry="10.5" fill="url(#hb)" opacity="0.8"/>
<ellipse cx="221.7" cy="110.6" rx="23.0" ry="18.0" fill="url(#pb)" opacity="0.55"/>
<ellipse cx="221.7" cy="107.6" rx="13.5" ry="10.5" fill="url(#hb)" opacity="0.8"/>
<ellipse cx="17.7" cy="72.6" rx="20.0" ry="20.0" fill="url(#pb)" opacity="0.9"/>
<ellipse cx="251.0" cy="72.6" rx="20.0" ry="20.0" fill="url(#pb)" opacity="0.9"/>
<ellipse cx="74.0" cy="72.6" rx="9.0" ry="8.0" fill="url(#pb)" opacity="0.18"/>
<ellipse cx="192.6" cy="72.6" rx="9.0" ry="8.0" fill="url(#pb)" opacity="0.18"/>
<ellipse cx="133.7" cy="72.6" rx="9.0" ry="9.0" fill="url(#gb)" opacity="0.45"/>
<rect x="45.0" y="14.2" width="60.0" height="30.0" fill="url(#vGd)" mask="url(#hm)" opacity="0.9"/>
<rect x="45.0" y="101.2" width="60.0" height="30.0" fill="url(#vGu)" mask="url(#hm)" opacity="0.9"/>
<rect x="44.0" y="-11.8" width="62.0" height="26.0" fill="url(#vEu)" mask="url(#hm)" opacity="0.7"/>
<rect x="44.0" y="131.2" width="62.0" height="26.0" fill="url(#vEd)" mask="url(#hm)" opacity="0.7"/>
<rect x="162.4" y="14.2" width="60.0" height="30.0" fill="url(#vGd)" mask="url(#hm)" opacity="0.9"/>
<rect x="162.4" y="101.2" width="60.0" height="30.0" fill="url(#vGu)" mask="url(#hm)" opacity="0.9"/>
<rect x="161.4" y="-11.8" width="62.0" height="26.0" fill="url(#vEu)" mask="url(#hm)" opacity="0.7"/>
<rect x="161.4" y="131.2" width="62.0" height="26.0" fill="url(#vEd)" mask="url(#hm)" opacity="0.7"/>
<rect x="-34.0" y="14.2" width="60.0" height="30.0" fill="url(#vGd)" mask="url(#hm)" opacity="0.9"/>
<rect x="-34.0" y="101.2" width="60.0" height="30.0" fill="url(#vGu)" mask="url(#hm)" opacity="0.9"/>
<rect x="-35.0" y="-11.8" width="62.0" height="26.0" fill="url(#vEu)" mask="url(#hm)" opacity="0.7"/>
<rect x="-35.0" y="131.2" width="62.0" height="26.0" fill="url(#vEd)" mask="url(#hm)" opacity="0.7"/>
<rect x="241.0" y="14.2" width="60.0" height="30.0" fill="url(#vGd)" mask="url(#hm)" opacity="0.9"/>
<rect x="241.0" y="101.2" width="60.0" height="30.0" fill="url(#vGu)" mask="url(#hm)" opacity="0.9"/>
<rect x="240.0" y="-11.8" width="62.0" height="26.0" fill="url(#vEu)" mask="url(#hm)" opacity="0.7"/>
<rect x="240.0" y="131.2" width="62.0" height="26.0" fill="url(#vEd)" mask="url(#hm)" opacity="0.7"/>
<rect x="106.7" y="-7.8" width="54.0" height="22.0" fill="url(#vEu)" mask="url(#hm)" opacity="0.4"/>
<rect x="106.7" y="131.2" width="54.0" height="22.0" fill="url(#vEd)" mask="url(#hm)" opacity="0.4"/>
</g>
<path d="M0 14.2H267.0M0 131.2H267.0" stroke="#000020" stroke-width="2.3"/>
<ellipse cx="45.7" cy="37.8" rx="12.3" ry="8.8" fill="none" stroke="#000018" stroke-opacity="0.42" stroke-width="1.3" stroke-dasharray="6 5"/>
<ellipse cx="45.7" cy="108.0" rx="12.3" ry="8.8" fill="none" stroke="#000018" stroke-opacity="0.42" stroke-width="1.3" stroke-dasharray="6 5"/>
<ellipse cx="103.7" cy="37.8" rx="12.3" ry="8.8" fill="none" stroke="#000018" stroke-opacity="0.42" stroke-width="1.3" stroke-dasharray="6 5"/>
<ellipse cx="103.7" cy="108.0" rx="12.3" ry="8.8" fill="none" stroke="#000018" stroke-opacity="0.42" stroke-width="1.3" stroke-dasharray="6 5"/>
<ellipse cx="163.0" cy="37.8" rx="12.3" ry="8.8" fill="none" stroke="#000018" stroke-opacity="0.42" stroke-width="1.3" stroke-dasharray="6 5"/>
<ellipse cx="163.0" cy="108.0" rx="12.3" ry="8.8" fill="none" stroke="#000018" stroke-opacity="0.42" stroke-width="1.3" stroke-dasharray="6 5"/>
<ellipse cx="221.7" cy="37.8" rx="12.3" ry="8.8" fill="none" stroke="#000018" stroke-opacity="0.42" stroke-width="1.3" stroke-dasharray="6 5"/>
<ellipse cx="221.7" cy="108.0" rx="12.3" ry="8.8" fill="none" stroke="#000018" stroke-opacity="0.42" stroke-width="1.3" stroke-dasharray="6 5"/>
<circle cx="17.7" cy="72.6" r="12.5" fill="none" stroke="#000018" stroke-opacity="0.35" stroke-width="1.2" stroke-dasharray="4 5"/>
<circle cx="251.0" cy="72.6" r="12.5" fill="none" stroke="#000018" stroke-opacity="0.35" stroke-width="1.2" stroke-dasharray="4 5"/>
<ellipse cx="74.0" cy="72.6" rx="7.5" ry="5.6" fill="none" stroke="#000018" stroke-opacity="0.55" stroke-width="1.3" stroke-dasharray="7 3"/>
<ellipse cx="192.6" cy="72.6" rx="7.5" ry="5.6" fill="none" stroke="#000018" stroke-opacity="0.55" stroke-width="1.3" stroke-dasharray="7 3"/>
<ellipse cx="133.7" cy="72.6" rx="8" ry="5.8" fill="none" stroke="#200000" stroke-opacity="0.5" stroke-width="1.3" stroke-dasharray="8 3"/>
</svg>
<svg x="1291.0" y="557.3" width="236.6" height="130.7" viewBox="0 0 236.6 130.7" overflow="hidden">
<g filter="url(#jet)">
<rect x="0" y="0" width="236.6" height="130.7" fill="rgb(10,10,10)"/>
<rect x="-13.0" y="-46.9" width="92.0" height="104.0" fill="url(#vEu)" mask="url(#hm)" opacity="0.66"/>
<rect x="-5.0" y="32.1" width="76.0" height="25.0" fill="url(#vGu)" mask="url(#hm)" opacity="0.6"/>
<rect x="75.0" y="-46.9" width="92.0" height="104.0" fill="url(#vEu)" mask="url(#hm)" opacity="0.66"/>
<rect x="83.0" y="32.1" width="76.0" height="25.0" fill="url(#vGu)" mask="url(#hm)" opacity="0.8"/>
<rect x="162.3" y="-46.9" width="92.0" height="104.0" fill="url(#vEu)" mask="url(#hm)" opacity="0.66"/>
<rect x="170.3" y="32.1" width="76.0" height="25.0" fill="url(#vGu)" mask="url(#hm)" opacity="0.6"/>
<ellipse cx="118.0" cy="105.0" rx="190.0" ry="70.0" fill="url(#pw)" opacity="0.12"/>
<rect x="79.0" y="57.1" width="84.0" height="50.0" fill="url(#vGd)" mask="url(#hm)" opacity="0.52"/>
<ellipse cx="121.0" cy="107.1" rx="24.0" ry="60.0" fill="url(#gw)" opacity="0.24"/>
<rect x="-68.0" y="57.1" width="112.0" height="40.0" fill="url(#vGd)" mask="url(#hm)" opacity="0.8"/>
<rect x="-72.0" y="57.1" width="120.0" height="75.0" fill="url(#vEd)" mask="url(#hm)" opacity="0.28"/>
<rect x="192.0" y="57.1" width="112.0" height="40.0" fill="url(#vGd)" mask="url(#hm)" opacity="0.8"/>
<rect x="188.0" y="57.1" width="120.0" height="75.0" fill="url(#vEd)" mask="url(#hm)" opacity="0.28"/>
<ellipse cx="8.5" cy="100.0" rx="19.0" ry="19.0" fill="url(#pb)" opacity="0.5"/>
<ellipse cx="80.8" cy="100.0" rx="19.0" ry="19.0" fill="url(#pb)" opacity="0.5"/>
<ellipse cx="158.5" cy="100.0" rx="19.0" ry="19.0" fill="url(#pb)" opacity="0.5"/>
<ellipse cx="235.6" cy="100.0" rx="19.0" ry="19.0" fill="url(#pb)" opacity="0.5"/>
</g>
<path d="M0 57.1H236.6" stroke="#000060" stroke-width="2"/>
<circle cx="8.5" cy="100.0" r="15.5" fill="none" stroke="#000018" stroke-opacity="0.4" stroke-width="1.1" stroke-dasharray="3.2 2.6"/>
<circle cx="80.8" cy="100.0" r="15.5" fill="none" stroke="#000018" stroke-opacity="0.4" stroke-width="1.1" stroke-dasharray="3.2 2.6"/>
<circle cx="158.5" cy="100.0" r="15.5" fill="none" stroke="#000018" stroke-opacity="0.4" stroke-width="1.1" stroke-dasharray="3.2 2.6"/>
<circle cx="235.6" cy="100.0" r="15.5" fill="none" stroke="#000018" stroke-opacity="0.4" stroke-width="1.1" stroke-dasharray="3.2 2.6"/>
</svg>
<svg x="1429.1" y="735.5" width="263.6" height="149.4" viewBox="0 0 263.6 149.4" overflow="hidden">
<g filter="url(#jet)">
<rect x="0" y="0" width="263.6" height="149.4" fill="rgb(9,9,9)"/>
<ellipse cx="128.2" cy="77.7" rx="150.0" ry="70.0" fill="url(#pw)" opacity="0.34"/>
<ellipse cx="128.2" cy="77.7" rx="100.0" ry="40.0" fill="url(#pw)" opacity="0.22"/>
<ellipse cx="73.5" cy="77.7" rx="22.0" ry="92.0" fill="url(#pw)" opacity="0.22"/>
<ellipse cx="182.9" cy="77.7" rx="22.0" ry="92.0" fill="url(#pw)" opacity="0.22"/>
<ellipse cx="18.0" cy="30.0" rx="26.0" ry="30.0" fill="url(#gw)" opacity="0.3"/>
<ellipse cx="18.0" cy="125.0" rx="26.0" ry="30.0" fill="url(#gw)" opacity="0.3"/>
<ellipse cx="238.4" cy="30.0" rx="26.0" ry="30.0" fill="url(#gw)" opacity="0.3"/>
<ellipse cx="238.4" cy="125.0" rx="26.0" ry="30.0" fill="url(#gw)" opacity="0.3"/>
<ellipse cx="86.2" cy="58.7" rx="36.0" ry="11.0" fill="url(#gw)" opacity="0.17" transform="rotate(8 86.2 58.7)"/>
<ellipse cx="86.2" cy="96.7" rx="36.0" ry="11.0" fill="url(#gw)" opacity="0.17" transform="rotate(-8 86.2 96.7)"/>
<ellipse cx="170.2" cy="58.7" rx="36.0" ry="11.0" fill="url(#gw)" opacity="0.17" transform="rotate(-8 170.2 58.7)"/>
<ellipse cx="170.2" cy="96.7" rx="36.0" ry="11.0" fill="url(#gw)" opacity="0.17" transform="rotate(8 170.2 96.7)"/>
<ellipse cx="101.0" cy="77.7" rx="23.0" ry="24.0" fill="url(#pw)" opacity="0.42"/>
<ellipse cx="155.6" cy="77.7" rx="23.0" ry="24.0" fill="url(#pw)" opacity="0.42"/>
<ellipse cx="45.7" cy="39.6" rx="19.0" ry="17.0" fill="url(#pb)" opacity="0.92"/>
<ellipse cx="45.7" cy="114.6" rx="19.0" ry="17.0" fill="url(#pb)" opacity="0.92"/>
<ellipse cx="101.0" cy="39.6" rx="19.0" ry="17.0" fill="url(#pb)" opacity="0.92"/>
<ellipse cx="101.0" cy="114.6" rx="19.0" ry="17.0" fill="url(#pb)" opacity="0.92"/>
<ellipse cx="156.2" cy="39.6" rx="19.0" ry="17.0" fill="url(#pb)" opacity="0.92"/>
<ellipse cx="156.2" cy="114.6" rx="19.0" ry="17.0" fill="url(#pb)" opacity="0.92"/>
<ellipse cx="210.8" cy="39.6" rx="19.0" ry="17.0" fill="url(#pb)" opacity="0.92"/>
<ellipse cx="210.8" cy="114.6" rx="19.0" ry="17.0" fill="url(#pb)" opacity="0.92"/>
<ellipse cx="19.0" cy="77.7" rx="17.0" ry="17.0" fill="url(#pb)" opacity="0.85"/>
<ellipse cx="237.4" cy="77.7" rx="17.0" ry="17.0" fill="url(#pb)" opacity="0.85"/>
<ellipse cx="73.0" cy="77.7" rx="9.0" ry="9.0" fill="url(#pb)" opacity="0.3"/>
<ellipse cx="183.5" cy="77.7" rx="9.0" ry="9.0" fill="url(#pb)" opacity="0.3"/>
<ellipse cx="128.2" cy="77.7" rx="11.0" ry="13.0" fill="url(#gb)" opacity="0.55"/>
<ellipse cx="128.2" cy="44.7" rx="15.0" ry="15.0" fill="url(#gb)" opacity="0.45"/>
<ellipse cx="128.2" cy="110.7" rx="15.0" ry="15.0" fill="url(#gb)" opacity="0.45"/>
<rect x="91.2" y="15.2" width="74.0" height="34.0" fill="url(#vGd)" mask="url(#hm)" opacity="0.95"/>
<rect x="91.2" y="106.2" width="74.0" height="34.0" fill="url(#vGu)" mask="url(#hm)" opacity="0.95"/>
<rect x="96.2" y="-4.8" width="64.0" height="20.0" fill="url(#vEu)" mask="url(#hm)" opacity="0.62"/>
<rect x="96.2" y="140.2" width="64.0" height="20.0" fill="url(#vEd)" mask="url(#hm)" opacity="0.62"/>
<rect x="30.0" y="-6.8" width="60.0" height="22.0" fill="url(#vEu)" mask="url(#hm)" opacity="0.46"/>
<rect x="30.0" y="140.2" width="60.0" height="22.0" fill="url(#vEd)" mask="url(#hm)" opacity="0.5"/>
<rect x="166.0" y="-6.8" width="60.0" height="22.0" fill="url(#vEu)" mask="url(#hm)" opacity="0.46"/>
<rect x="166.0" y="140.2" width="60.0" height="22.0" fill="url(#vEd)" mask="url(#hm)" opacity="0.5"/>
<rect x="-48.0" y="2.2" width="84.0" height="13.0" fill="url(#vGu)" mask="url(#hm)" opacity="0.6"/>
<rect x="-48.0" y="140.2" width="84.0" height="13.0" fill="url(#vGd)" mask="url(#hm)" opacity="0.62"/>
<rect x="-48.0" y="-8.8" width="84.0" height="24.0" fill="url(#vEu)" mask="url(#hm)" opacity="0.25"/>
<rect x="-48.0" y="140.2" width="84.0" height="24.0" fill="url(#vEd)" mask="url(#hm)" opacity="0.25"/>
<rect x="227.6" y="2.2" width="84.0" height="13.0" fill="url(#vGu)" mask="url(#hm)" opacity="0.6"/>
<rect x="227.6" y="140.2" width="84.0" height="13.0" fill="url(#vGd)" mask="url(#hm)" opacity="0.62"/>
<rect x="227.6" y="-8.8" width="84.0" height="24.0" fill="url(#vEu)" mask="url(#hm)" opacity="0.25"/>
<rect x="227.6" y="140.2" width="84.0" height="24.0" fill="url(#vEd)" mask="url(#hm)" opacity="0.25"/>
<rect x="-42.0" y="15.2" width="80.0" height="30.0" fill="url(#vGd)" mask="url(#hm)" opacity="0.46"/>
<rect x="-42.0" y="114.2" width="80.0" height="26.0" fill="url(#vGu)" mask="url(#hm)" opacity="0.4"/>
<rect x="225.6" y="15.2" width="80.0" height="30.0" fill="url(#vGd)" mask="url(#hm)" opacity="0.46"/>
<rect x="225.6" y="114.2" width="80.0" height="26.0" fill="url(#vGu)" mask="url(#hm)" opacity="0.4"/>
<rect x="34.0" y="15.2" width="56.0" height="22.0" fill="url(#vGd)" mask="url(#hm)" opacity="0.3"/>
<rect x="34.0" y="118.2" width="56.0" height="22.0" fill="url(#vGu)" mask="url(#hm)" opacity="0.3"/>
<rect x="166.0" y="15.2" width="56.0" height="22.0" fill="url(#vGd)" mask="url(#hm)" opacity="0.3"/>
<rect x="166.0" y="118.2" width="56.0" height="22.0" fill="url(#vGu)" mask="url(#hm)" opacity="0.3"/>
</g>
<path d="M0 15.2H263.6M0 140.2H263.6" stroke="#000030" stroke-width="1.7"/>
<circle cx="45.7" cy="39.6" r="11.5" fill="none" stroke="#000018" stroke-opacity="0.42" stroke-width="1.3" stroke-dasharray="5 4"/>
<circle cx="45.7" cy="114.6" r="11.5" fill="none" stroke="#000018" stroke-opacity="0.42" stroke-width="1.3" stroke-dasharray="5 4"/>
<circle cx="101.0" cy="39.6" r="11.5" fill="none" stroke="#000018" stroke-opacity="0.42" stroke-width="1.3" stroke-dasharray="5 4"/>
<circle cx="101.0" cy="114.6" r="11.5" fill="none" stroke="#000018" stroke-opacity="0.42" stroke-width="1.3" stroke-dasharray="5 4"/>
<circle cx="156.2" cy="39.6" r="11.5" fill="none" stroke="#000018" stroke-opacity="0.42" stroke-width="1.3" stroke-dasharray="5 4"/>
<circle cx="156.2" cy="114.6" r="11.5" fill="none" stroke="#000018" stroke-opacity="0.42" stroke-width="1.3" stroke-dasharray="5 4"/>
<circle cx="210.8" cy="39.6" r="11.5" fill="none" stroke="#000018" stroke-opacity="0.42" stroke-width="1.3" stroke-dasharray="5 4"/>
<circle cx="210.8" cy="114.6" r="11.5" fill="none" stroke="#000018" stroke-opacity="0.42" stroke-width="1.3" stroke-dasharray="5 4"/>
<circle cx="19.0" cy="77.7" r="12.0" fill="none" stroke="#000018" stroke-opacity="0.42" stroke-width="1.3" stroke-dasharray="5 4"/>
<circle cx="237.4" cy="77.7" r="12.0" fill="none" stroke="#000018" stroke-opacity="0.42" stroke-width="1.3" stroke-dasharray="5 4"/>
<circle cx="73.0" cy="77.7" r="7.5" fill="none" stroke="#000018" stroke-opacity="0.6" stroke-width="1.4" stroke-dasharray="4.5 3"/>
<circle cx="183.5" cy="77.7" r="7.5" fill="none" stroke="#000018" stroke-opacity="0.6" stroke-width="1.4" stroke-dasharray="4.5 3"/>
<circle cx="128.2" cy="77.7" r="6.5" fill="none" stroke="#000018" stroke-opacity="0.55" stroke-width="1.3" stroke-dasharray="4.5 3"/>
</svg>
</svg></body></html>
